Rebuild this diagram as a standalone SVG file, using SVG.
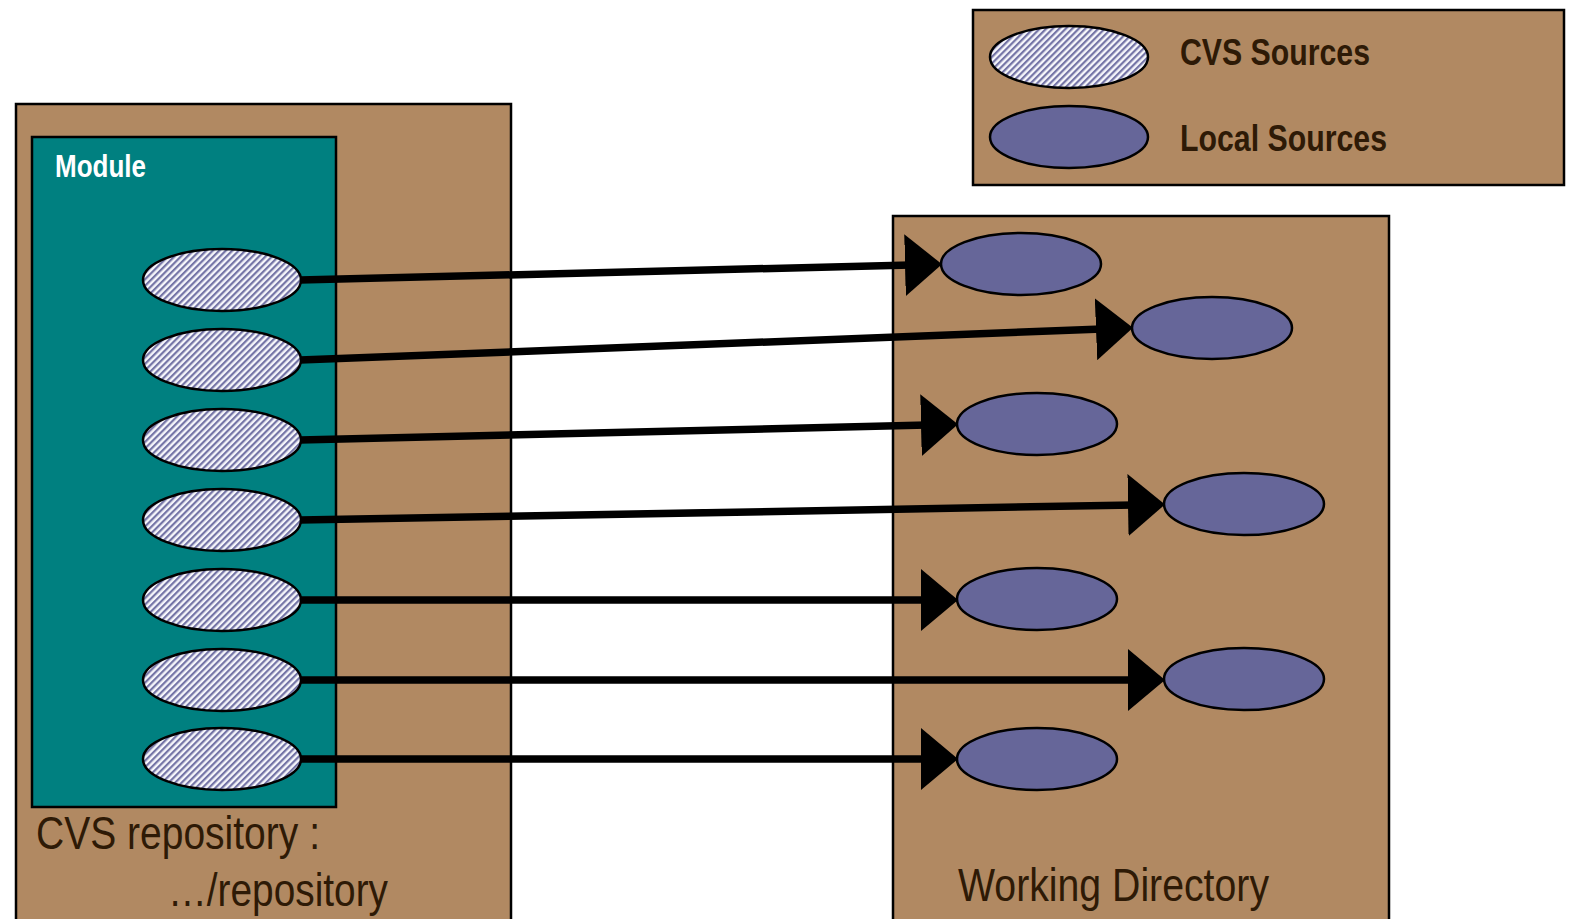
<svg xmlns="http://www.w3.org/2000/svg" width="1573" height="919" viewBox="0 0 1573 919">
  <style>
    .panel { fill: #b18962; stroke: #000; stroke-width: 2.5; }
    .module { fill: #008080; stroke: #000; stroke-width: 2.5; }
    .cvs { fill: url(#hatch); stroke: #000; stroke-width: 2.5; }
    .local { fill: #666699; stroke: #000; stroke-width: 2.5; }
    .link { stroke: #000; stroke-width: 7.5; fill: none; marker-end: url(#arrow); }
    .label { font-family: "Liberation Sans Narrow", "Liberation Sans", Arial, sans-serif; fill: #2e1a06; }
    .bold { font-weight: bold; }
  </style>
  <defs>
    <pattern id="hatch" patternUnits="userSpaceOnUse" width="4.6" height="4.6" patternTransform="rotate(45)">
      <rect width="4.6" height="4.6" fill="#f6f6fb"/>
      <rect width="2.2" height="4.6" fill="#7474a6"/>
    </pattern>
    <marker id="arrow" markerUnits="userSpaceOnUse" markerWidth="40" markerHeight="62" viewBox="0 0 40 62" refX="6" refY="31" orient="auto">
      <path d="M0,0 L37,31 L0,62 Z" fill="#000"/>
    </marker>
  </defs>

  <!-- repository panel -->
  <g id="repository">
    <rect class="panel" x="16" y="104" width="495" height="830"/>
    <text class="label" x="36" y="849" font-size="46" textLength="284" lengthAdjust="spacingAndGlyphs">CVS repository :</text>
    <text class="label" x="168" y="906" font-size="46" textLength="220" lengthAdjust="spacingAndGlyphs">…/repository</text>
  </g>

  <!-- module inside repository -->
  <g id="module">
    <rect class="module" x="32" y="137" width="304" height="670"/>
    <text class="label bold" x="55" y="177" font-size="32" style="fill:#fff" textLength="91" lengthAdjust="spacingAndGlyphs">Module</text>
  </g>

  <!-- working directory panel -->
  <g id="working-directory">
    <rect class="panel" x="893" y="216" width="496" height="720"/>
    <text class="label" x="958" y="901" font-size="47" textLength="311" lengthAdjust="spacingAndGlyphs">Working Directory</text>
  </g>

  <!-- legend -->
  <g id="legend">
    <rect class="panel" x="973" y="10" width="591" height="175"/>
    <ellipse class="cvs" cx="1069" cy="57" rx="79" ry="31"/>
    <ellipse class="local" cx="1069" cy="137" rx="79" ry="31"/>
    <text class="label bold" x="1180" y="65" font-size="36" textLength="190" lengthAdjust="spacingAndGlyphs">CVS Sources</text>
    <text class="label bold" x="1180" y="151" font-size="36" textLength="207" lengthAdjust="spacingAndGlyphs">Local Sources</text>
  </g>

  <!-- checkout links: repository files to working copies -->
  <g id="connectors">
    <line class="link" x1="300" y1="280" x2="911" y2="265"/>
    <line class="link" x1="300" y1="360" x2="1102" y2="329"/>
    <line class="link" x1="300" y1="440" x2="927" y2="425"/>
    <line class="link" x1="300" y1="520" x2="1134" y2="505"/>
    <line class="link" x1="300" y1="600" x2="927" y2="600"/>
    <line class="link" x1="300" y1="680" x2="1134" y2="680"/>
    <line class="link" x1="300" y1="759" x2="927" y2="759"/>
  </g>

  <!-- CVS source files -->
  <g id="cvs-file-1"><ellipse class="cvs" cx="222" cy="280" rx="79" ry="31"/></g>
  <g id="cvs-file-2"><ellipse class="cvs" cx="222" cy="360" rx="79" ry="31"/></g>
  <g id="cvs-file-3"><ellipse class="cvs" cx="222" cy="440" rx="79" ry="31"/></g>
  <g id="cvs-file-4"><ellipse class="cvs" cx="222" cy="520" rx="79" ry="31"/></g>
  <g id="cvs-file-5"><ellipse class="cvs" cx="222" cy="600" rx="79" ry="31"/></g>
  <g id="cvs-file-6"><ellipse class="cvs" cx="222" cy="680" rx="79" ry="31"/></g>
  <g id="cvs-file-7"><ellipse class="cvs" cx="222" cy="759" rx="79" ry="31"/></g>

  <!-- local working copies -->
  <g id="local-file-1"><ellipse class="local" cx="1021" cy="264" rx="80" ry="31"/></g>
  <g id="local-file-2"><ellipse class="local" cx="1212" cy="328" rx="80" ry="31"/></g>
  <g id="local-file-3"><ellipse class="local" cx="1037" cy="424" rx="80" ry="31"/></g>
  <g id="local-file-4"><ellipse class="local" cx="1244" cy="504" rx="80" ry="31"/></g>
  <g id="local-file-5"><ellipse class="local" cx="1037" cy="599" rx="80" ry="31"/></g>
  <g id="local-file-6"><ellipse class="local" cx="1244" cy="679" rx="80" ry="31"/></g>
  <g id="local-file-7"><ellipse class="local" cx="1037" cy="759" rx="80" ry="31"/></g>
</svg>
